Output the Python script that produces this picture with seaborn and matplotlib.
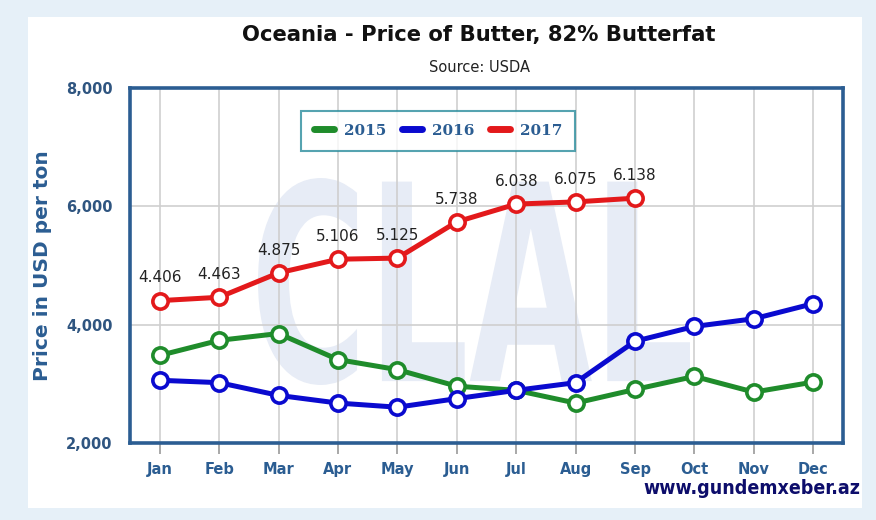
import numpy as np
import pandas as pd
import seaborn as sns
import matplotlib.pyplot as plt
from matplotlib import font_manager as fm
from matplotlib.lines import Line2D
from matplotlib.patches import PathPatch, Rectangle
from matplotlib.textpath import TextPath
from matplotlib.font_manager import FontProperties
from matplotlib.transforms import Affine2D

# values (USD per ton)
months = ['Jan', 'Feb', 'Mar', 'Apr', 'May', 'Jun', 'Jul', 'Aug', 'Sep', 'Oct', 'Nov', 'Dec']
price_2015 = [3480, 3735, 3850, 3410, 3240, 2960, 2890, 2675, 2905, 3125, 2860, 3030]
price_2016 = [3060, 3020, 2805, 2675, 2605, 2750, 2890, 3020, 3720, 3970, 4100, 4355]
price_2017 = [4406, 4463, 4875, 5106, 5125, 5738, 6038, 6075, 6138]
years = ['2015', '2016', '2017']
year_colors = ['#1f8c2b', '#0a0acf', '#e3191b']
y_ticks = [2000, 4000, 6000, 8000]

W, H = 876, 520
DARK = '#2b5d92'

sns.set_style('white')
plt.rcParams['font.family'] = ['DejaVu Sans']

fig = plt.figure(figsize=(W / 100, H / 100), dpi=100)
fig.patch.set_facecolor('#e6f0f8')

# white panel
fig.add_artist(Rectangle((28 / W, 1 - 508 / H), (862 - 28) / W, (508 - 17) / H,
                         transform=fig.transFigure, facecolor='white',
                         edgecolor='none', zorder=-3))

# faint CLAL logo behind the plot
tp = TextPath((0, 0), 'CLAL', size=1, prop=FontProperties(family='DejaVu Sans', weight='bold'))
ext = tp.get_extents()
x0, x1, y0, y1 = 258, 690, 178, 385
tr = (Affine2D().translate(-ext.x0, -ext.y0)
      .scale((x1 - x0) / W / ext.width, (y1 - y0) / H / ext.height)
      .translate(x0 / W, 1 - y1 / H))
fig.add_artist(PathPatch(tr.transform_path(tp), transform=fig.transFigure,
                         facecolor='#e7ecf6', edgecolor='none', zorder=-2))

ax = fig.add_axes([130 / W, 1 - 443 / H, (843 - 130) / W, (443 - 88) / H])
ax.set_facecolor('none')

series = [price_2015, price_2016, price_2017]
for year, vals, col in zip(years, series, year_colors):
    df = pd.DataFrame({'month': np.arange(len(vals)), 'price': vals})
    sns.lineplot(data=df, x='month', y='price', ax=ax, color=col, linewidth=3.6,
                 marker='o', markersize=11, markerfacecolor='white',
                 markeredgecolor=col, markeredgewidth=2.6, legend=False, zorder=3)

for i, v in enumerate(price_2017):
    ax.annotate(f'{v / 1000:.3f}', (i, v), xytext=(0, 11), textcoords='offset points',
                ha='center', va='bottom', fontsize=11, color='#222222', zorder=4)

ax.set_xlim(-0.5, len(months) - 0.5)
ax.set_ylim(2000, 8000)
ax.set_xticks(np.arange(len(months)), months)
ax.set_yticks(y_ticks, [f'{t:,}' for t in y_ticks])
ax.grid(True, color='#cfcfcf', linewidth=1.2, zorder=0)
ax.set_axisbelow(True)
for s in ax.spines.values():
    s.set_visible(True)
    s.set_color(DARK)
    s.set_linewidth(2.6)
ax.tick_params(axis='x', bottom=True, length=8, width=1.2, color='#999999',
               pad=6, labelsize=10.5, labelcolor=DARK)
ax.tick_params(axis='y', left=False, pad=9, labelsize=10.5, labelcolor='#2f5580')
for lab in ax.get_xticklabels() + ax.get_yticklabels():
    lab.set_fontweight('bold')

ax.set_xlabel('')
ax.set_ylabel('Price in USD per ton', fontsize=14.5, fontweight='bold', color=DARK)
ax.yaxis.set_label_coords((52 - 130) / (843 - 130), 0.5)

handles = [Line2D([], [], color=c, linewidth=5) for c in year_colors]
leg = ax.legend(handles, years, loc='center', bbox_to_anchor=(0.432, 0.880), ncol=3,
                frameon=True, fancybox=False, handlelength=1.3, handletextpad=0.65,
                columnspacing=1.05, borderpad=0.85,
                prop={'family': 'DejaVu Serif', 'weight': 'bold', 'size': 11})
leg.get_frame().set_edgecolor('#2a8c9c')
leg.get_frame().set_linewidth(1.5)
for t in leg.get_texts():
    t.set_color(DARK)

fig.text(479 / W, 1 - 35 / H, 'Oceania - Price of Butter, 82% Butterfat',
         ha='center', va='center', fontsize=15.2, fontweight='bold', color='#111111')
fig.text(479 / W, 1 - 67 / H, 'Source: USDA', ha='center', va='center',
         fontsize=10.5, color='#222222')

# site watermark in a condensed face if one is installed
cond = [f for f in fm.fontManager.ttflist
        if f.weight in ('bold', 700) and
        (f.stretch == 'condensed' or 'Narrow' in f.name or 'Condensed' in f.name)]
if cond:
    wm_font = FontProperties(fname=cond[0].fname, size=14)
else:
    wm_font = FontProperties(family='DejaVu Sans', weight='bold', size=11.5)
fig.text(860 / W, 1 - 489 / H, 'www.gundemxeber.az', ha='right', va='center',
         fontproperties=wm_font, color='#0d0d6b')

fig.savefig('out.png', dpi=100, facecolor=fig.get_facecolor())
